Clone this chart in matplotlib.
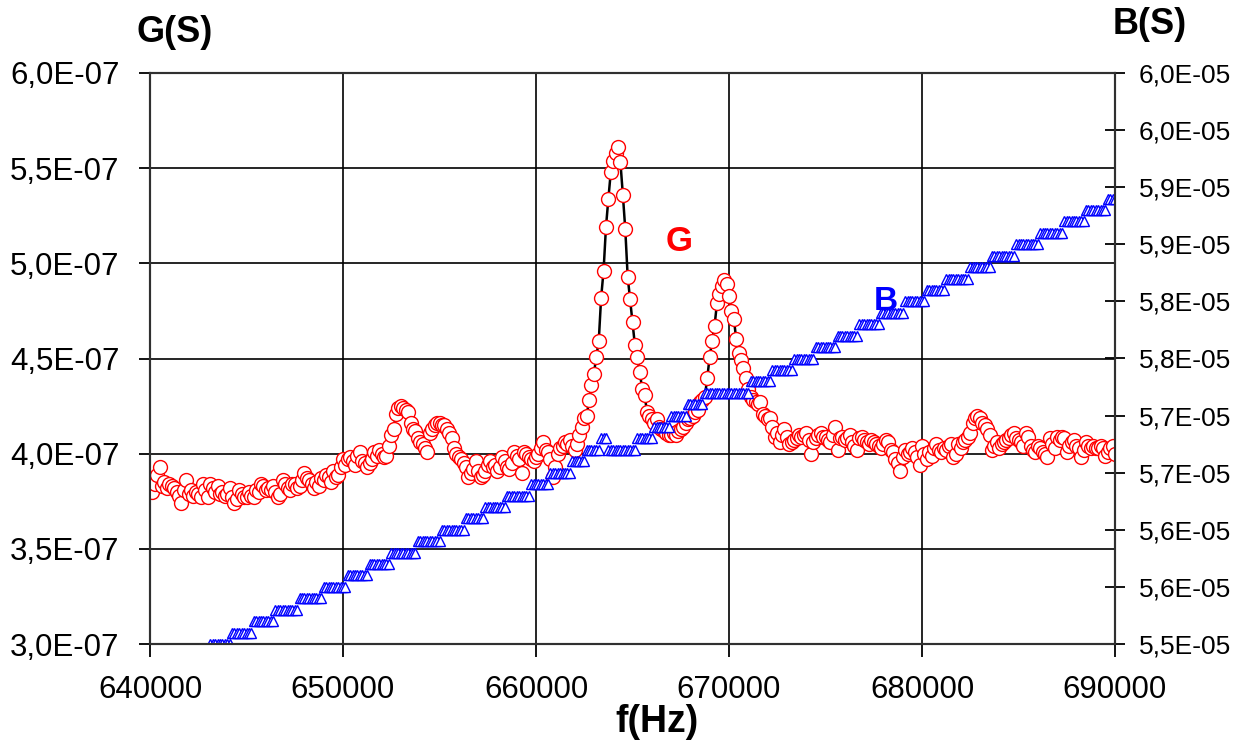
import numpy as np
import matplotlib
matplotlib.use('Agg')
import matplotlib.pyplot as plt

plt.rcParams['font.family'] = ['Liberation Sans', 'DejaVu Sans']

# frequency sweep: 401 points, 640 kHz -> 690 kHz
f_start = 640000
f_stop = 690000
n_points = 401

# G, in units of 1E-09 S
g_vals = [
    385, 380, 384, 389, 393, 383, 385, 382, 384, 383,
    382, 380, 378, 374, 381, 386, 379, 381, 378, 380,
    379, 377, 384, 381, 377, 384, 382, 380, 383, 379,
    380, 378, 379, 382, 377, 374, 376, 381, 379, 377,
    377, 380, 378, 377, 381, 380, 384, 383, 381, 382,
    381, 383, 380, 377, 379, 386, 384, 382, 381, 384,
    384, 382, 383, 386, 390, 387, 386, 384, 382, 385,
    383, 387, 386, 389, 388, 385, 391, 388, 389, 393,
    397, 394, 397, 398, 396, 394, 399, 401, 396, 395,
    393, 395, 397, 401, 399, 402, 400, 398, 399, 404,
    410, 413, 421, 424, 425, 424, 423, 422, 416, 413,
    412, 408, 406, 405, 403, 401, 411, 413, 415, 416,
    416, 415, 415, 413, 411, 408, 403, 400, 398, 397,
    395, 393, 388, 390, 392, 396, 391, 388, 389, 391,
    394, 396, 393, 394, 391, 393, 398, 396, 393, 392,
    395, 401, 399, 397, 390, 401, 400, 398, 397, 396,
    398, 400, 403, 406, 402, 401, 397, 388, 393, 400,
    403, 404, 406, 405, 407, 404, 402, 405, 410, 414,
    419, 420, 428, 436, 442, 451, 459, 482, 496, 519,
    534, 548, 554, 558, 561, 553, 536, 518, 493, 481,
    469, 457, 451, 443, 434, 431, 422, 420, 418, 416,
    418, 414, 413, 412, 411, 410, 410, 411, 410, 412,
    413, 414, 416, 418, 419, 420, 422, 423, 427, 428,
    430, 440, 451, 459, 467, 479, 484, 488, 491, 489,
    483, 475, 471, 460, 453, 449, 445, 440, 434, 430,
    428, 427, 426, 427, 421, 420, 418, 419, 414, 409,
    411, 406, 410, 413, 409, 405, 406, 407, 408, 410,
    409, 410, 411, 407, 400, 406, 408, 410, 411, 409,
    409, 407, 406, 410, 414, 402, 408, 409, 407, 408,
    410, 406, 404, 402, 408, 409, 407, 406, 405, 407,
    406, 405, 404, 403, 405, 407, 406, 402, 401, 397,
    395, 391, 398, 402, 400, 401, 403, 401, 398, 394,
    404, 400, 397, 401, 399, 403, 405, 402, 401, 403,
    402, 404, 405, 398, 400, 405, 403, 406, 407, 409,
    411, 416, 419, 420, 419, 416, 415, 413, 410, 402,
    404, 406, 403, 405, 406, 407, 408, 410, 411, 408,
    407, 406, 404, 411, 409, 404, 402, 401, 404, 403,
    401, 400, 398, 408, 405, 403, 409, 407, 409, 408,
    401, 404, 406, 407, 404, 403, 398, 402, 406, 404,
    403, 404, 403, 403, 404, 403, 399, 401, 403, 404,
    400,
]

# B, in units of 1E-07 S (instrument resolution)
b_vals = [
    547, 547, 547, 547, 547, 547, 547, 548, 548, 548,
    548, 548, 548, 548, 548, 548, 549, 549, 549, 549,
    549, 549, 549, 549, 549, 550, 550, 550, 550, 550,
    550, 550, 550, 550, 551, 551, 551, 551, 551, 551,
    551, 551, 551, 552, 552, 552, 552, 552, 552, 552,
    552, 552, 553, 553, 553, 553, 553, 553, 553, 553,
    553, 553, 554, 554, 554, 554, 554, 554, 554, 554,
    554, 554, 555, 555, 555, 555, 555, 555, 555, 555,
    555, 555, 556, 556, 556, 556, 556, 556, 556, 556,
    556, 557, 557, 557, 557, 557, 557, 557, 557, 557,
    558, 558, 558, 558, 558, 558, 558, 558, 558, 558,
    558, 559, 559, 559, 559, 559, 559, 559, 559, 559,
    559, 560, 560, 560, 560, 560, 560, 560, 560, 560,
    560, 561, 561, 561, 561, 561, 561, 561, 561, 562,
    562, 562, 562, 562, 562, 562, 562, 562, 563, 563,
    563, 563, 563, 563, 563, 563, 563, 563, 564, 564,
    564, 564, 564, 564, 564, 564, 565, 565, 565, 565,
    565, 565, 565, 565, 565, 566, 566, 566, 566, 566,
    566, 567, 567, 567, 567, 567, 567, 568, 568, 568,
    567, 567, 567, 567, 567, 567, 567, 567, 567, 567,
    567, 567, 568, 568, 568, 568, 568, 568, 568, 569,
    569, 569, 569, 569, 569, 569, 570, 570, 570, 570,
    570, 570, 570, 571, 571, 571, 571, 571, 571, 571,
    572, 572, 572, 572, 572, 572, 572, 572, 572, 572,
    572, 572, 572, 572, 572, 572, 572, 572, 572, 573,
    573, 573, 573, 573, 573, 573, 573, 573, 574, 574,
    574, 574, 574, 574, 574, 574, 574, 575, 575, 575,
    575, 575, 575, 575, 575, 575, 576, 576, 576, 576,
    576, 576, 576, 576, 576, 577, 577, 577, 577, 577,
    577, 577, 577, 577, 578, 578, 578, 578, 578, 578,
    578, 578, 578, 579, 579, 579, 579, 579, 579, 579,
    579, 579, 579, 580, 580, 580, 580, 580, 580, 580,
    580, 580, 581, 581, 581, 581, 581, 581, 581, 581,
    582, 582, 582, 582, 582, 582, 582, 582, 582, 582,
    583, 583, 583, 583, 583, 583, 583, 583, 583, 584,
    584, 584, 584, 584, 584, 584, 584, 584, 584, 585,
    585, 585, 585, 585, 585, 585, 585, 585, 585, 586,
    586, 586, 586, 586, 586, 586, 586, 586, 586, 587,
    587, 587, 587, 587, 587, 587, 587, 587, 588, 588,
    588, 588, 588, 588, 588, 588, 588, 589, 589, 589,
    589,
]

x_ticks = [640000, 650000, 660000, 670000, 680000, 690000]
g_ticks = [3.0e-7, 3.5e-7, 4.0e-7, 4.5e-7, 5.0e-7, 5.5e-7, 6.0e-7]
g_ticklabels = ['3,0E-07', '3,5E-07', '4,0E-07', '4,5E-07', '5,0E-07', '5,5E-07', '6,0E-07']
b_ticks = [5.50e-5, 5.55e-5, 5.60e-5, 5.65e-5, 5.70e-5, 5.75e-5,
           5.80e-5, 5.85e-5, 5.90e-5, 5.95e-5, 6.00e-5]
b_ticklabels = ['5,5E-05', '5,6E-05', '5,6E-05', '5,7E-05', '5,7E-05', '5,8E-05',
                '5,8E-05', '5,9E-05', '5,9E-05', '6,0E-05', '6,0E-05']

freq = np.linspace(f_start, f_stop, n_points)
G = np.array(g_vals) * 1e-9
B = np.array(b_vals) * 1e-7

fig = plt.figure(figsize=(12.48, 7.44), dpi=100)
ax1 = fig.add_axes([150/1248, 1-644/744, (1115-150)/1248, (644-73)/744])
ax2 = ax1.twinx()

# G : red open circles joined by a black line
ax1.plot(freq, G, color='black', lw=1.8, zorder=2)
ax1.plot(freq, G, ls='none', marker='o', ms=10, mfc='white', mec='red', mew=1.0, zorder=3)

# B : open blue triangles
ax2.plot(freq, B, ls='none', marker='^', ms=7, mfc='white', mec='blue', mew=1.0)

ax1.set_xlim(f_start, f_stop)
ax1.set_ylim(3.0e-7, 6.0e-7)
ax2.set_ylim(5.5e-5, 6.0e-5)

ax1.set_xticks(x_ticks)
ax1.set_xticklabels([str(x) for x in x_ticks])
ax1.set_yticks(g_ticks)
ax1.set_yticklabels(g_ticklabels)
ax2.set_yticks(b_ticks)
ax2.set_yticklabels(b_ticklabels)

ax1.grid(True, color='black', lw=1.2)
ax1.set_axisbelow(True)

for ax in (ax1, ax2):
    for s in ax.spines.values():
        s.set_color('#303030')
        s.set_linewidth(1.5)

ax1.tick_params(axis='y', direction='out', length=8, width=1.3, pad=14, labelsize=22.5)
ax1.tick_params(axis='x', direction='out', length=9, width=1.3, pad=13, labelsize=22.5)
ax2.tick_params(axis='y', direction='inout', length=14, width=1.3, pad=10, labelsize=19)

fig.text(175/1248, 1-33/744, 'G(S)', fontsize=26, fontweight='bold', ha='center', va='center')
fig.text(1150/1248, 1-25/744, 'B(S)', fontsize=26, fontweight='bold', ha='center', va='center')
fig.text(657/1248, 1-722/744, 'f(Hz)', fontsize=27, fontweight='bold', ha='center', va='center')

ax1.text(679/1248, 1-241/744, 'G', transform=fig.transFigure, color='red',
         fontsize=25, fontweight='bold', ha='center', va='center')
ax1.text(886/1248, 1-301/744, 'B', transform=fig.transFigure, color='blue',
         fontsize=24, fontweight='bold', ha='center', va='center', zorder=5)

fig.savefig('out.png', dpi=100)
